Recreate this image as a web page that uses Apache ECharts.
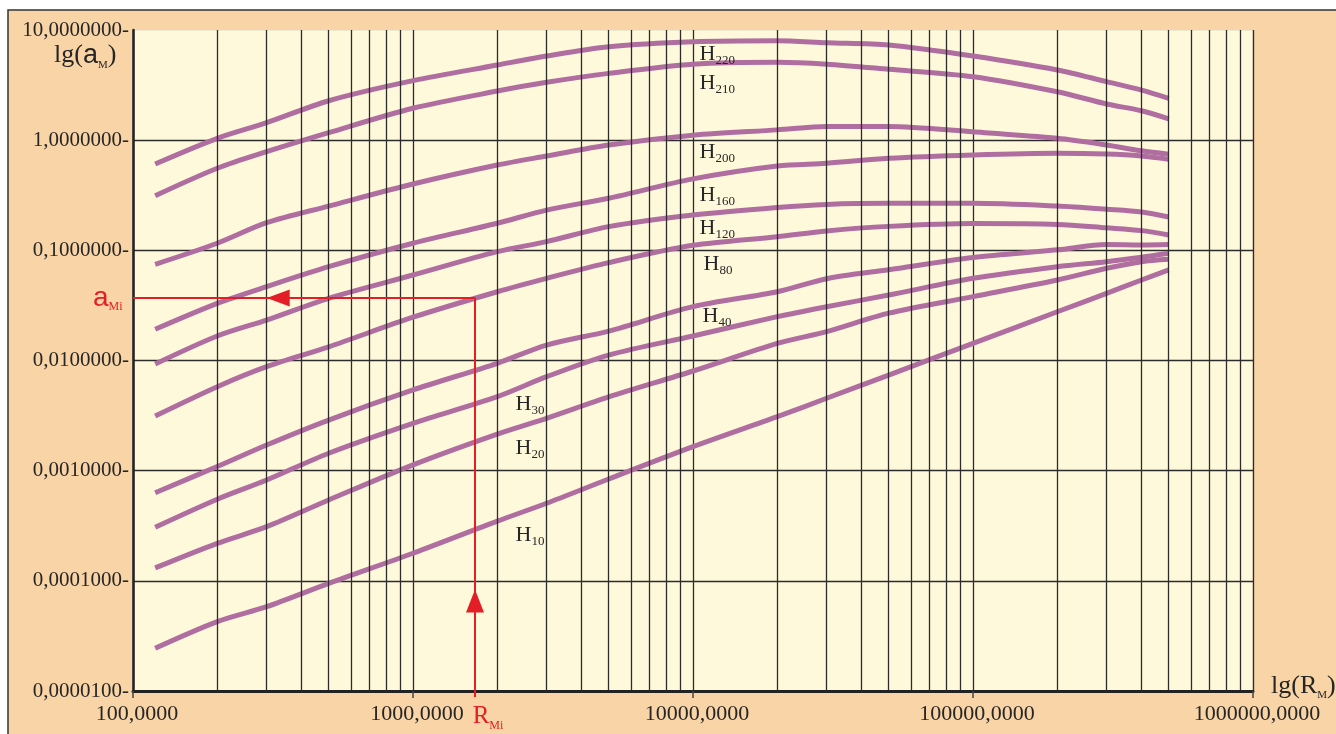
<!DOCTYPE html>
<html>
<head>
<meta charset="utf-8">
<script src="https://cdn.jsdelivr.net/npm/echarts@6/dist/echarts.min.js"></script>
<style>
html,body{margin:0;padding:0;background:#ffffff;}
#c{width:1336px;height:734px;}
</style>
</head>
<body>
<div id="c"></div>
<script>
// ---------------- data ----------------
const xValues = [120, 200, 300, 500, 1000, 2000, 3000, 5000, 10000, 20000, 30000, 50000, 100000, 200000, 300000, 400000, 500000];

const H220 = [0.608, 1.04, 1.44, 2.28, 3.47, 4.81, 5.81, 7.05, 7.83, 8.00, 7.67, 7.31, 5.81, 4.34, 3.40, 2.85, 2.40];
const H210 = [0.313, 0.556, 0.786, 1.17, 1.95, 2.79, 3.35, 4.04, 4.89, 5.09, 4.89, 4.40, 3.77, 2.75, 2.13, 1.85, 1.56];
const H200 = [0.0747, 0.116, 0.178, 0.252, 0.400, 0.595, 0.718, 0.904, 1.11, 1.24, 1.33, 1.33, 1.19, 1.04, 0.904, 0.80, 0.745];
const H160 = [0.0192, 0.0330, 0.0468, 0.071, 0.116, 0.176, 0.232, 0.297, 0.445, 0.583, 0.617, 0.684, 0.733, 0.760, 0.748, 0.718, 0.670];
const H120 = [0.00929, 0.0167, 0.0233, 0.0367, 0.0597, 0.0973, 0.120, 0.164, 0.209, 0.245, 0.261, 0.267, 0.267, 0.252, 0.236, 0.223, 0.201];
const H80  = [0.00313, 0.00578, 0.00879, 0.0133, 0.0247, 0.0421, 0.0557, 0.0773, 0.111, 0.133, 0.150, 0.165, 0.175, 0.172, 0.160, 0.151, 0.138];
const H40  = [0.000631, 0.00109, 0.00171, 0.00288, 0.0054, 0.00944, 0.0138, 0.0185, 0.0308, 0.0421, 0.0553, 0.0667, 0.0861, 0.101, 0.113, 0.112, 0.113];
const H30  = [0.000306, 0.000550, 0.000822, 0.00144, 0.00269, 0.00470, 0.00713, 0.0112, 0.0167, 0.0250, 0.0308, 0.0393, 0.0557, 0.0711, 0.0789, 0.0865, 0.0940];
const H20  = [0.000131, 0.000219, 0.000310, 0.000542, 0.00113, 0.00215, 0.00299, 0.00467, 0.00803, 0.0143, 0.0183, 0.0269, 0.0380, 0.0538, 0.0687, 0.0789, 0.0830];
const H10  = [0.0000244, 0.0000426, 0.0000582, 0.0000950, 0.000178, 0.000348, 0.000506, 0.000840, 0.00165, 0.00309, 0.00454, 0.00738, 0.0143, 0.0277, 0.0407, 0.0538, 0.0664];

const curveSubs = ['220', '210', '200', '160', '120', '80', '40', '30', '20', '10'];
const curveValues = [H220, H210, H200, H160, H120, H80, H40, H30, H20, H10];
// label anchors (data units)
const labelX = [10505, 10505, 10505, 10505, 10505, 10857, 10768, 2314, 2314, 2314];
const labelY = [5.99, 3.30, 0.781, 0.318, 0.158, 0.0744, 0.02535, 0.003988, 0.001606, 0.0002608];

// red reading example
const markerR = 1665;
const markerA = 0.0369;
const markerYEnd = 0.0000088;
const leftArrowX = 330;
const upArrowY = 0.0000656;

// ticks
const xTicks = [100, 1000, 10000, 100000, 1000000];
const xTickLabels = ['100,0000', '1000,0000', '10000,0000', '100000,0000', '1000000,0000'];
const yTicks = [0.00001, 0.0001, 0.001, 0.01, 0.1, 1, 10];
const yTickLabels = ['0,0000100', '0,0001000', '0,0010000', '0,0100000', '0,1000000', '1,0000000', '10,0000000'];

// ---------------- chart ----------------
const serif = '"Liberation Serif", "Times New Roman", serif';
const sans = '"Liberation Sans", Arial, sans-serif';
const curveColor = '#B06EA0';
const red = '#E31E26';
const gridColor = '#2c2c2c';
const textColor = '#262626';

function findLabel(v, ticks, labels) {
  for (let i = 0; i < ticks.length; i++) {
    if (Math.abs(Math.log10(ticks[i]) - Math.log10(v)) < 1e-6) return labels[i];
  }
  return '';
}

const minorX = [];
for (const d of [100, 1000, 10000, 100000]) for (let k = 2; k <= 9; k++) minorX.push(d * k);

const series = [];
series.push({
  type: 'line', name: 'minorGrid', silent: true, z: 1,
  data: [[100, 0.00001]], symbol: 'none', lineStyle: { opacity: 0 },
  markLine: {
    silent: true, symbol: ['none', 'none'], label: { show: false },
    lineStyle: { color: gridColor, width: 1.3, type: 'solid' },
    emphasis: { disabled: true },
    data: minorX.map(v => ({ xAxis: v }))
  }
});

curveValues.forEach((vals, i) => {
  series.push({
    type: 'line', name: 'H' + curveSubs[i], z: 3,
    data: xValues.map((x, j) => [x, vals[j]]),
    smooth: 0.3, symbol: 'none',
    lineStyle: { color: curveColor, width: 5, cap: 'butt', join: 'round' }
  });
});

series.push({
  type: 'scatter', name: 'curveLabels', z: 6, silent: true,
  symbolSize: 1, itemStyle: { color: 'rgba(0,0,0,0)', opacity: 1 },
  data: labelX.map((x, i) => ({
    value: [x, labelY[i]],
    label: { formatter: '{h|H}{s|' + curveSubs[i] + '}' }
  })),
  label: {
    show: true, position: 'right', distance: 0, opacity: 1,
    rich: {
      h: { fontFamily: serif, fontSize: 22, color: textColor, lineHeight: 26 },
      s: { fontFamily: serif, fontSize: 13, color: textColor, lineHeight: 13, verticalAlign: 'bottom' }
    }
  }
});

series.push({
  type: 'line', name: 'example', z: 5, clip: false, silent: true,
  data: [[100, markerA], [markerR, markerA], [markerR, markerYEnd]],
  symbol: 'none', lineStyle: { color: red, width: 2 }
});

series.push({
  type: 'scatter', name: 'arrows', z: 6, clip: false, silent: true,
  symbol: 'triangle',
  itemStyle: { color: red, opacity: 1 },
  data: [
    { value: [leftArrowX, markerA], symbolRotate: 90, symbolSize: [17, 23] },
    { value: [markerR, upArrowY], symbolRotate: 0, symbolSize: [18, 23] }
  ]
});

series.push({
  type: 'scatter', name: 'exampleText', z: 6, clip: false, silent: true,
  symbolSize: 1, itemStyle: { color: 'rgba(0,0,0,0)', opacity: 1 },
  data: [
    { value: [100, markerA], label: { show: true, position: 'left', distance: 10, formatter: '{a|a}{s|Mi}' } },
    { value: [markerR, markerYEnd], label: { show: true, position: 'bottom', distance: 4, offset: [13, 0], formatter: '{r|R}{s|Mi}' } }
  ],
  label: {
    opacity: 1,
    rich: {
      a: { fontFamily: sans, fontSize: 28, color: red, lineHeight: 30 },
      r: { fontFamily: serif, fontSize: 25, color: red, lineHeight: 30 },
      s: { fontFamily: serif, fontSize: 12, color: red, lineHeight: 12, verticalAlign: 'bottom' }
    }
  }
});

const option = {
  animation: false,
  backgroundColor: '#ffffff',
  graphic: [
    {
      type: 'rect', z: -10, silent: true,
      shape: { x: 8, y: 10, width: 1340, height: 740 },
      style: { fill: '#F9D4A6', stroke: '#333333', lineWidth: 1.5 }
    },
    {
      type: 'text', left: 54, top: 42, silent: true,
      style: {
        text: '{l|lg(}{a|a}{s|M}{l|)}',
        rich: {
          l: { fontFamily: serif, fontSize: 26, fill: textColor, lineHeight: 30 },
          a: { fontFamily: sans, fontSize: 27, fill: textColor, lineHeight: 30 },
          s: { fontFamily: serif, fontSize: 11, fill: textColor, lineHeight: 11, verticalAlign: 'bottom' }
        }
      }
    },
    {
      type: 'text', left: 1271, top: 673, silent: true,
      style: {
        text: '{l|lg(R}{s|M}{l|)}',
        rich: {
          l: { fontFamily: serif, fontSize: 26, fill: textColor, lineHeight: 30 },
          s: { fontFamily: serif, fontSize: 11, fill: textColor, lineHeight: 11, verticalAlign: 'bottom' }
        }
      }
    }
  ],
  grid: {
    left: 133, top: 30, width: 1120, height: 661,
    show: true, backgroundColor: '#FFF9DC', borderColor: '#dcd8c4', borderWidth: 1,
    containLabel: false
  },
  xAxis: {
    type: 'log', logBase: 10, min: 100, max: 1000000, splitNumber: 4,
    axisLine: { show: true, onZero: false, lineStyle: { color: '#222', width: 3 } },
    axisTick: { show: true, length: 7, lineStyle: { color: '#444', width: 1.5 } },
    minorTick: { show: false },
    axisLabel: {
      margin: 12, fontFamily: serif, fontSize: 22, color: textColor,
      padding: [0, 0, 0, 8],
      showMinLabel: true, showMaxLabel: true,
      formatter: v => findLabel(v, xTicks, xTickLabels)
    },
    splitLine: { show: true, lineStyle: { color: gridColor, width: 1.3 } }
  },
  yAxis: {
    type: 'log', logBase: 10, min: 0.00001, max: 10, splitNumber: 6,
    axisLine: { show: true, onZero: false, lineStyle: { color: '#222', width: 2.5 } },
    axisTick: { show: false },
    axisLabel: {
      margin: 4, fontFamily: serif, fontSize: 21, color: textColor,
      padding: [5, 0, 0, 0],
      showMinLabel: true, showMaxLabel: true,
      formatter: v => { const t = findLabel(v, yTicks, yTickLabels); return t ? t + '-' : ''; }
    },
    splitLine: {
      show: true,
      lineStyle: { color: [gridColor, gridColor, gridColor, gridColor, gridColor, gridColor, 'rgba(0,0,0,0)'], width: 1.3 }
    }
  },
  series: series
};

const chart = echarts.init(document.getElementById('c'), null, { renderer: 'canvas' });
chart.setOption(option);
</script>
</body>
</html>
